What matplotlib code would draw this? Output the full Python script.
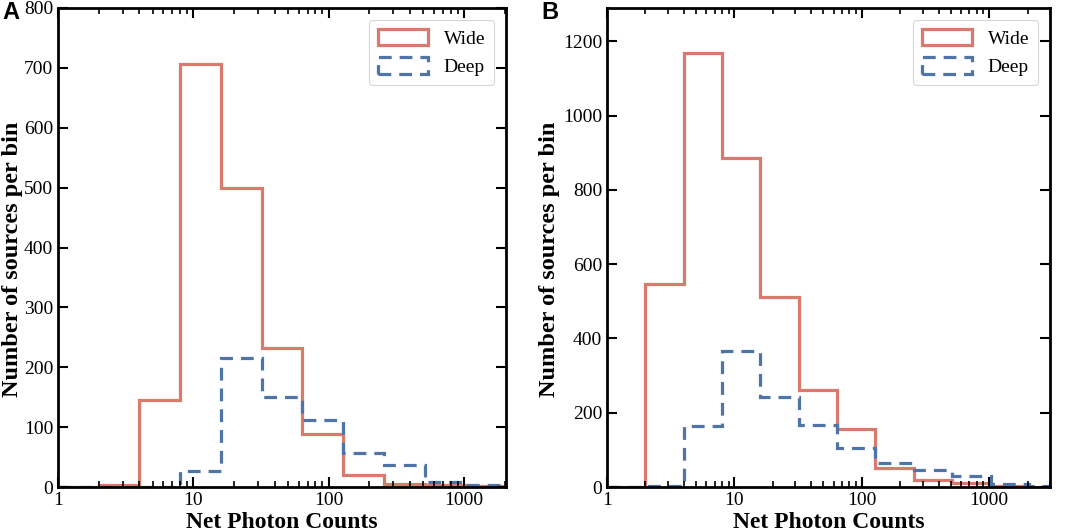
import numpy as np
import matplotlib.pyplot as plt
from matplotlib.patches import Patch

plt.rcParams['font.family'] = ['Liberation Serif', 'DejaVu Serif']

# log2 bins of net photon counts
edges_a = [1, 2, 4, 8, 16, 32, 64, 128, 256, 512, 1024, 2048]
wide_a = [0, 3, 146, 707, 499, 232, 88, 20, 5, 3, 2]
deep_a = [0, 0, 0, 27, 216, 150, 112, 57, 36, 8, 4]

edges_b = [1, 2, 4, 8, 16, 32, 64, 128, 256, 512, 1024, 2048, 4096]
wide_b = [0, 548, 1170, 885, 513, 262, 156, 50, 20, 10, 3, 1]
deep_b = [0, 2, 163, 365, 242, 167, 104, 64, 46, 30, 8, 3]

wide_color = '#d97a6c'
deep_color = '#4e74a8'

fig = plt.figure(figsize=(10.65, 5.32), dpi=100)
ax1 = fig.add_axes([58/1065, 45/532, 448/1065, 479/532])
ax2 = fig.add_axes([607/1065, 45/532, 443/1065, 479/532])

panels = [(ax1, edges_a, wide_a, deep_a, (1, 2048), 800, [0, 100, 200, 300, 400, 500, 600, 700, 800], -0.079),
          (ax2, edges_b, wide_b, deep_b, (1, 3000), 1290, [0, 200, 400, 600, 800, 1000, 1200], -0.106)]

for ax, edges, wide, deep, xl, ytop, yt, ylx in panels:
    ax.stairs(wide, edges, color=wide_color, lw=2.3)
    ax.stairs(deep, edges, color=deep_color, lw=2.3, ls=(0, (4, 2.5)))
    ax.set_xscale('log')
    ax.set_xlim(*xl)
    ax.set_ylim(0, ytop)
    ax.set_yticks(yt)
    ax.set_xticks([1, 10, 100, 1000])
    ax.set_xticklabels(['1', '10', '100', '1000'])
    ax.tick_params(which='both', direction='in', top=True, right=True, labelsize=14)
    ax.tick_params(which='major', length=7, width=1.5)
    ax.tick_params(which='minor', length=4, width=1.2)
    ax.tick_params(axis='y', which='minor', left=False, right=False)
    for s in ax.spines.values():
        s.set_linewidth(2)
    ax.set_xlabel('Net Photon Counts', fontsize=17, fontweight='bold', labelpad=2)
    ax.set_ylabel('Number of sources per bin', fontsize=17.5, fontweight='bold')
    ax.yaxis.set_label_coords(ylx, 0.476)
    handles = [Patch(facecolor='none', edgecolor=wide_color, lw=2.3, label='Wide'),
               Patch(facecolor='none', edgecolor=deep_color, lw=2.3, ls=(0, (4, 2.5)), label='Deep')]
    leg = ax.legend(handles=handles, loc='upper right', fontsize=14, handlelength=2.6,
                    handleheight=0.9, borderpad=0.45, bbox_to_anchor=(0.995, 0.995))
    leg.get_frame().set_linewidth(0.8)

fig.text(2/1065, 1 - 1/532, 'A', fontsize=17, fontweight='bold', family='Liberation Sans',
         va='top', ha='left')
fig.text(541/1065, 1 - 1/532, 'B', fontsize=17, fontweight='bold', family='Liberation Sans',
         va='top', ha='left')

fig.savefig('out.png', dpi=100)
